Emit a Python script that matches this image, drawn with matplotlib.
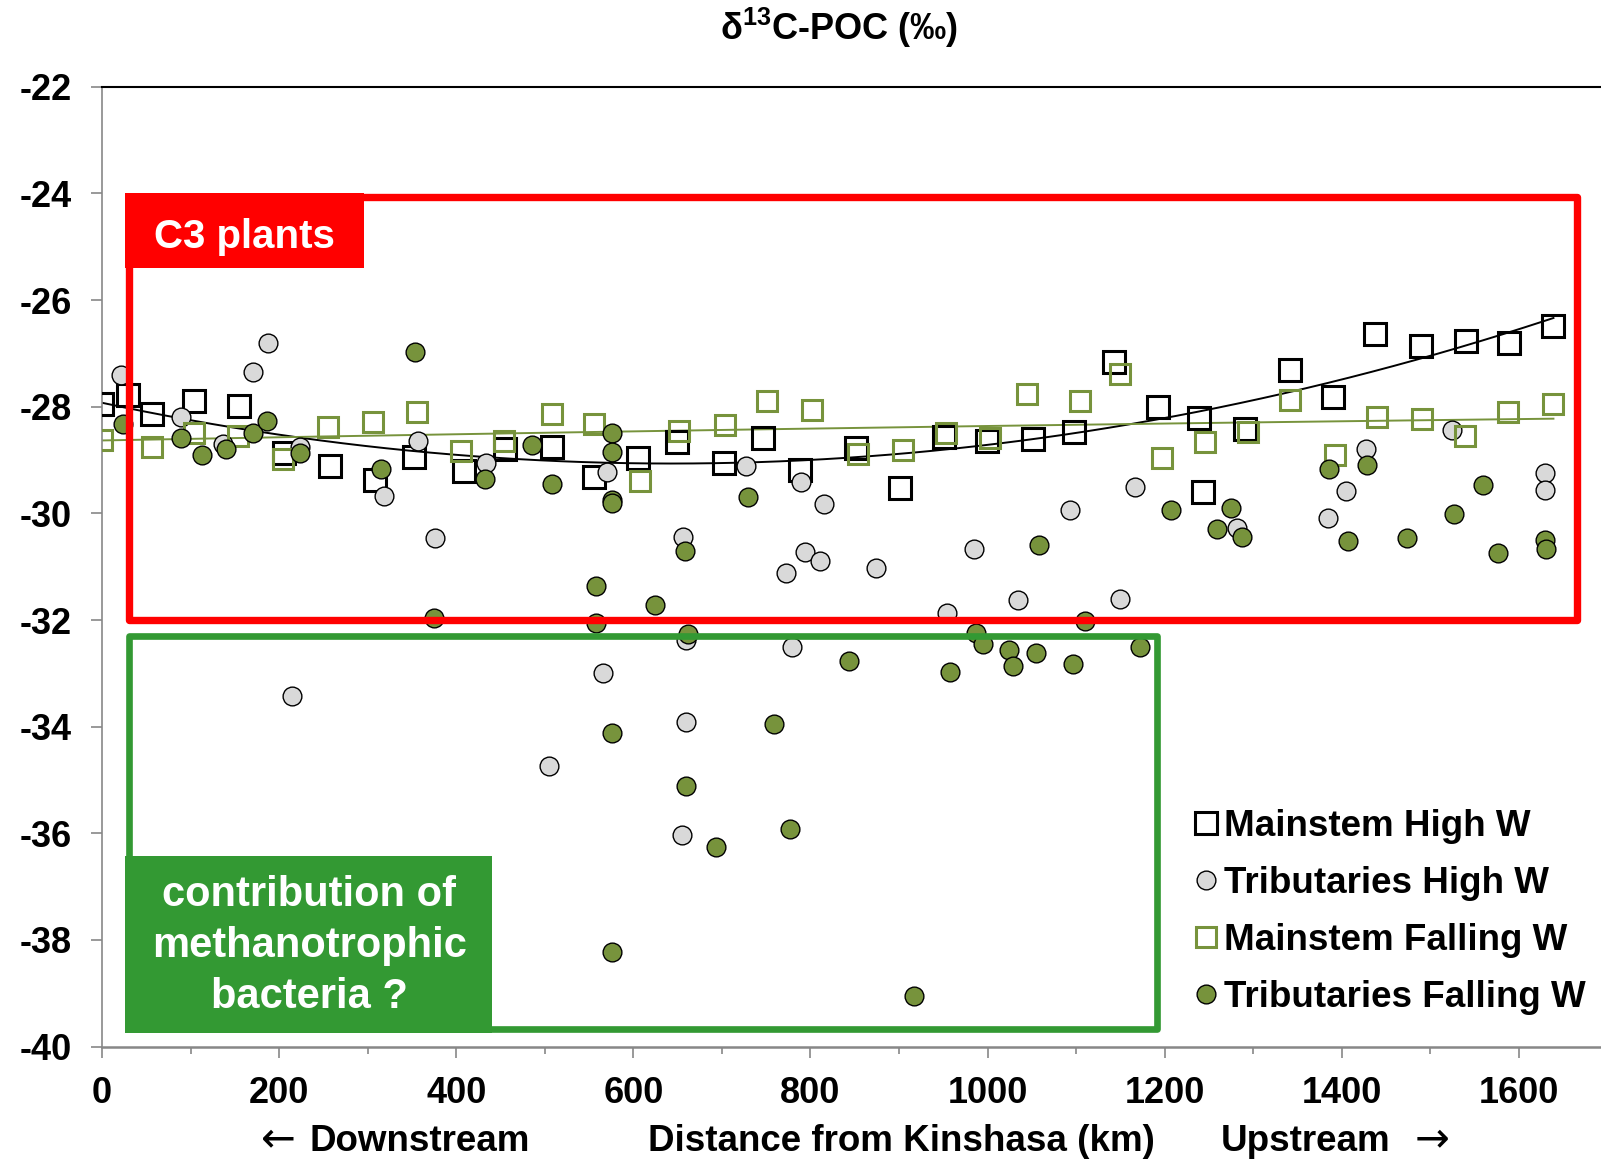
import numpy as np
import matplotlib
matplotlib.use('Agg')
import matplotlib.pyplot as plt
from matplotlib.patches import Rectangle

plt.rcParams['font.family'] = ['Liberation Sans', 'DejaVu Sans']
plt.rcParams['font.weight'] = 'bold'
plt.rcParams['axes.unicode_minus'] = False
plt.rcParams['mathtext.fontset'] = 'custom'
plt.rcParams['mathtext.rm'] = 'Liberation Sans'
plt.rcParams['mathtext.default'] = 'rm'

# Mainstem, high water
mh_x = [0, 29, 56, 104, 155, 205, 257, 308, 352, 409, 455, 508, 556, 605, 649, 702, 746, 788,
        851, 901, 951, 999, 1051, 1098, 1143, 1193, 1239, 1243, 1291, 1341, 1390, 1438, 1489,
        1540, 1589, 1639]
mh_y = [-27.95, -27.78, -28.14, -27.89, -27.98, -28.87, -29.12, -29.37, -28.94, -29.20, -28.80,
        -28.75, -29.32, -28.97, -28.67, -29.05, -28.59, -29.19, -28.78, -29.53, -28.56, -28.64,
        -28.60, -28.48, -27.17, -28.01, -28.22, -29.59, -28.42, -27.32, -27.82, -26.64, -26.87,
        -26.77, -26.80, -26.49]

# Tributaries, high water
th_x = [22, 89, 137, 171, 187, 214, 224, 318, 357, 376, 434, 505, 566, 570, 655, 656, 660, 660,
        727, 772, 779, 789, 794, 811, 815, 874, 954, 985, 1034, 1093, 1150, 1166, 1282, 1384,
        1405, 1427, 1525, 1630, 1630]
th_y = [-27.40, -28.19, -28.70, -27.34, -26.80, -33.42, -28.75, -29.67, -28.64, -30.46, -29.06,
        -34.74, -33.00, -29.22, -36.03, -30.45, -32.38, -33.92, -29.12, -31.12, -32.51, -29.42,
        -30.72, -30.89, -29.82, -31.03, -31.87, -30.66, -31.62, -29.94, -31.61, -29.51, -30.27,
        -30.08, -29.58, -28.80, -28.44, -29.24, -29.57]

# Mainstem, falling water
mf_x = [0, 56, 104, 154, 204, 255, 306, 356, 405, 454, 508, 556, 607, 652, 703, 751, 802, 854,
        905, 953, 1003, 1045, 1104, 1150, 1197, 1246, 1294, 1341, 1392, 1440, 1491, 1539, 1588,
        1639]
mf_y = [-28.62, -28.75, -28.50, -28.54, -28.98, -28.38, -28.29, -28.10, -28.83, -28.65, -28.14,
        -28.33, -29.40, -28.45, -28.34, -27.90, -28.07, -28.88, -28.82, -28.50, -28.59, -27.76,
        -27.89, -27.39, -28.97, -28.67, -28.47, -27.87, -28.90, -28.20, -28.23, -28.54, -28.10,
        -27.95]

# Tributaries, falling water
tf_x = [24, 89, 113, 140, 171, 186, 224, 315, 354, 375, 432, 486, 508, 558, 558, 576, 576, 576,
        576, 576, 576, 624, 658, 662, 660, 693, 729, 759, 777, 844, 917, 958, 987, 995, 1024,
        1029, 1055, 1058, 1097, 1110, 1172, 1207, 1259, 1275, 1287, 1385, 1407, 1428, 1474,
        1527, 1559, 1576, 1630, 1631]
tf_y = [-28.32, -28.58, -28.90, -28.80, -28.49, -28.27, -28.87, -29.17, -26.98, -31.96, -29.36,
        -28.72, -29.44, -31.36, -32.06, -28.50, -28.84, -29.75, -29.80, -34.12, -38.23, -31.72,
        -30.70, -32.26, -35.11, -36.25, -29.70, -33.95, -35.91, -32.77, -39.05, -32.97, -32.24,
        -32.45, -32.56, -32.86, -32.61, -30.59, -32.82, -32.02, -32.50, -29.94, -30.29, -29.89,
        -30.45, -29.17, -30.51, -29.10, -30.47, -30.01, -29.47, -30.74, -30.50, -30.66]

labels = ['Mainstem High W', 'Tributaries High W', 'Mainstem Falling W', 'Tributaries Falling W']

olive = '#77933C'
gray_fill = '#D9D9D9'
axis_gray = '#878787'

fig = plt.figure(figsize=(16.01, 11.64), dpi=100)
ax = fig.add_axes([102 / 1601, 1 - 1046.6 / 1164, 1499 / 1601, (1046.6 - 86.8) / 1164])

# polynomial trend lines (order 2)
for xs, ys, col in [(mh_x, mh_y, 'black'), (mf_x, mf_y, olive)]:
    c = np.polyfit(xs, ys, 2)
    xx = np.linspace(min(xs), max(xs), 200)
    ax.plot(xx, np.polyval(c, xx), color=col, lw=1.4, zorder=2)

h1, = ax.plot(mh_x, mh_y, 's', ms=15.5, mfc='none', mec='black', mew=2.2, zorder=3)
h2, = ax.plot(th_x, th_y, 'o', ms=13.5, mfc=gray_fill, mec='black', mew=1.0, zorder=4)
h3, = ax.plot(mf_x, mf_y, 's', ms=14, mfc='none', mec=olive, mew=2.2, zorder=5)
h4, = ax.plot(tf_x, tf_y, 'o', ms=13.5, mfc=olive, mec='black', mew=1.0, zorder=6)

# annotation boxes
red = '#FF0000'
green = '#339933'
ax.add_patch(Rectangle((30, -32.0), 1636, 7.93, fill=False, ec=red, lw=5.3,
                       joinstyle='round', zorder=7))
ax.add_patch(Rectangle((26, -25.40), 270, 1.40, fc=red, ec='none', zorder=8))
ax.text(161, -25.03, 'C3 plants', color='white', fontsize=29, fontweight='bold',
        ha='center', va='baseline', zorder=9)

ax.add_patch(Rectangle((30, -39.67), 1161, 7.37, fill=False, ec=green, lw=4.8,
                       joinstyle='round', zorder=7))
ax.add_patch(Rectangle((26, -39.74), 414, 3.32, fc=green, ec='none', zorder=8))
for txt, yb in [('contribution of', -37.36), ('methanotrophic', -38.32), ('bacteria ?', -39.28)]:
    ax.text(234, yb, txt, color='white', fontsize=30, fontweight='bold',
            ha='center', va='baseline', zorder=9)

ax.set_xlim(0, 1692.7)
ax.set_ylim(-40, -22)
ax.set_xticks(np.arange(0, 1601, 200))
ax.set_xticks(np.arange(100, 1700, 200), minor=True)
ax.set_yticks(np.arange(-40, -21, 2))

ax.spines['right'].set_visible(False)
ax.spines['top'].set_color('black')
ax.spines['top'].set_linewidth(1.5)
ax.spines['left'].set_color(axis_gray)
ax.spines['left'].set_linewidth(1.2)
ax.spines['bottom'].set_color(axis_gray)
ax.spines['bottom'].set_linewidth(1.8)

ax.tick_params(axis='both', which='major', direction='out', length=8, width=1.2,
               color=axis_gray, labelsize=26, labelcolor='black')
ax.tick_params(axis='y', which='major', pad=14)
ax.tick_params(axis='x', which='major', pad=13.5)
ax.tick_params(axis='x', which='minor', direction='out', length=5, width=1.2, color=axis_gray)
for lab in ax.get_xticklabels() + ax.get_yticklabels():
    lab.set_fontweight('bold')

fig.text(839 / 1601, 1 - 28 / 1164, 'δ$^{13}$C-POC (‰)', fontsize=26, fontweight='bold',
         ha='center', va='center')

# x axis caption, pieced together like the original
y_cap = 1 - 1141.5 / 1164
fig.text(278 / 1601, y_cap + 0.002, '←', fontsize=30, fontweight='normal',
         family='DejaVu Sans', ha='center', va='center')
fig.text(420 / 1601, y_cap, 'Downstream', fontsize=26.5, fontweight='bold',
         ha='center', va='center')
fig.text(901 / 1601, y_cap, 'Distance from Kinshasa (km)', fontsize=26.5,
         fontweight='bold', ha='center', va='center')
fig.text(1306 / 1601, y_cap, 'Upstream', fontsize=26.5, fontweight='bold',
         ha='center', va='center')
fig.text(1432 / 1601, y_cap + 0.002, '→', fontsize=30, fontweight='normal',
         family='DejaVu Sans', ha='center', va='center')

ax.legend([h1, h2, h3, h4], labels, loc='upper left', bbox_to_anchor=(1196.4 / 1601, 1 - 809 / 1164),
          bbox_transform=fig.transFigure, frameon=False, borderpad=0, borderaxespad=0,
          handlelength=0.5, handletextpad=0.24, labelspacing=0.6,
          prop={'size': 26.5, 'weight': 'bold'})

fig.savefig('out.png', dpi=100)
